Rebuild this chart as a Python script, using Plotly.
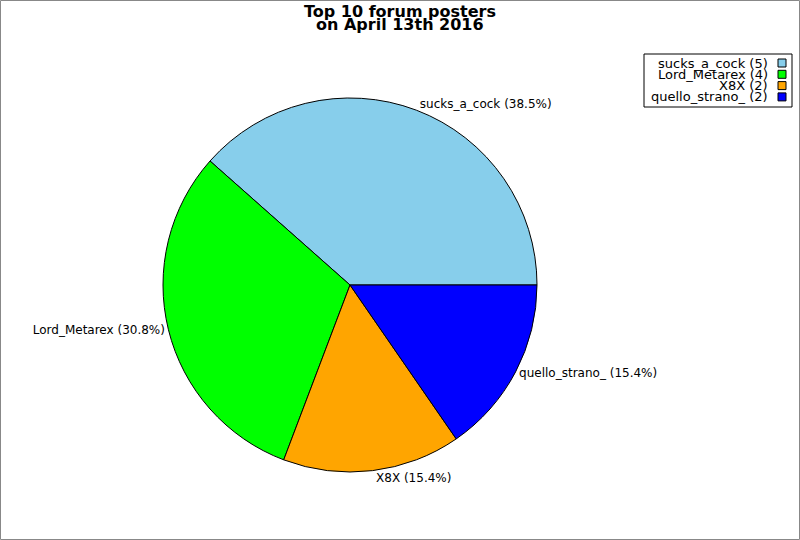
import plotly.graph_objects as go

# forum posters and their post counts
posters = ["sucks_a_cock", "Lord_Metarex", "X8X", "quello_strano_"]
posts = [5, 4, 2, 2]
colors = ["#87CEEB", "#00FF00", "#FFA500", "#0000FF"]
title_lines = ["Top 10 forum posters", "on April 13th 2016"]

W, H = 800, 540
font = "DejaVu Sans"

# plotly puts the end of the first ccw slice at `rotation` (clockwise from 12 o'clock);
# the reference starts the first slice at 3 o'clock
first_share = posts[0] / sum(posts)
rotation = 90 - 360 * first_share

fig = go.Figure(go.Pie(
    labels=posters,
    values=posts,
    sort=False,
    direction="counterclockwise",
    rotation=rotation,
    marker=dict(colors=colors, line=dict(color="black", width=1)),
    textposition="outside",
    texttemplate="%{label} (%{percent:.1%})",
    textfont=dict(family=font, size=12, color="black"),
    domain=dict(x=[163 / W, 537 / W], y=[1 - 472 / H, 1 - 98 / H]),
    showlegend=False,
    hoverinfo="label+value+percent",
))

# outer frame
shapes = [dict(type="rect", xref="paper", yref="paper",
               x0=0.5 / W, x1=1 - 0.5 / W, y0=0.5 / H, y1=1 - 0.5 / H,
               line=dict(color="#888888", width=1))]

# hand-made legend: text right aligned, colour box on the right
shapes.append(dict(type="rect", xref="paper", yref="paper",
                   x0=644 / W, x1=792 / W, y0=1 - 107 / H, y1=1 - 54 / H,
                   line=dict(color="black", width=1), fillcolor="white"))
annotations = []
for i, (name, n, c) in enumerate(zip(posters, posts, colors)):
    yc = 63 + i * 11.3
    annotations.append(dict(
        xref="paper", yref="paper", x=770 / W, y=1 - yc / H,
        xanchor="right", yanchor="middle", showarrow=False,
        text=f"{name} ({n})", font=dict(family=font, size=13, color="black"),
    ))
    shapes.append(dict(type="rect", xref="paper", yref="paper",
                       x0=778 / W, x1=786 / W, y0=1 - (yc + 4) / H, y1=1 - (yc - 4) / H,
                       line=dict(color="black", width=1), fillcolor=c))

# title, one annotation per line to get the tight line spacing
for i, line in enumerate(title_lines):
    annotations.append(dict(
        xref="paper", yref="paper", x=0.5, y=1 - (11 + i * 14) / H,
        xanchor="center", yanchor="middle", showarrow=False,
        text=f"<b>{line}</b>", font=dict(family=font, size=16, color="black"),
    ))

fig.update_layout(
    width=W, height=H,
    margin=dict(l=0, r=0, t=0, b=0),
    paper_bgcolor="white",
    shapes=shapes,
    annotations=annotations,
)

fig.write_html("out.html", config={"displayModeBar": False},
               post_script="document.body.style.margin='0';")
